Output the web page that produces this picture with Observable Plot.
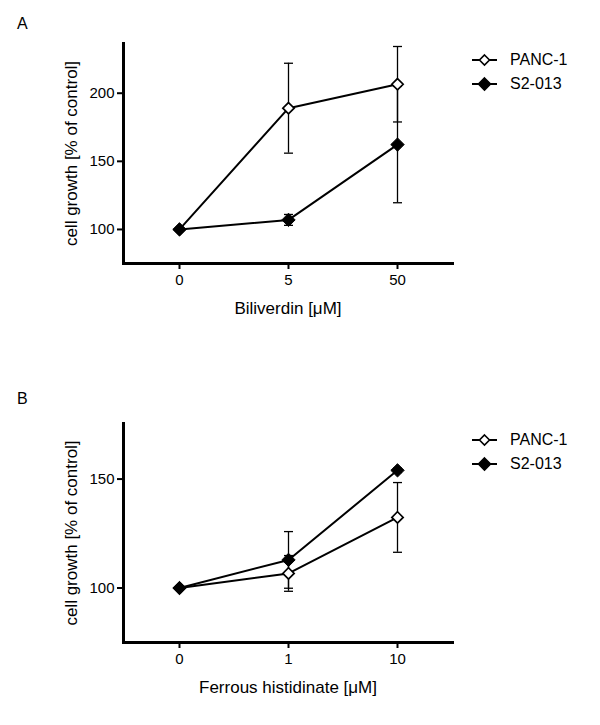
<!DOCTYPE html>
<html><head><meta charset="utf-8">
<script src="https://cdn.jsdelivr.net/npm/d3@7"></script>
<script src="https://cdn.jsdelivr.net/npm/@observablehq/plot@0.6"></script>
<style>
body{margin:0;background:#fff;font-family:"Liberation Sans",Arial,sans-serif;}
#wrap{position:relative;width:600px;height:725px;overflow:hidden;}
.panel{position:absolute;left:0;width:600px;}
.letter{position:absolute;left:17px;font-size:16px;line-height:16px;color:#000;}
.legend{position:absolute;left:472px;font-size:16px;color:#000;}
.legend .item{display:flex;align-items:center;height:24px;}
.legend svg{display:block;margin-right:12px;}
</style>
</head><body><div id="wrap"></div>
<script>
const seriesNames = ["PANC-1", "S2-013"];
const yTitle = "cell growth [% of control]";

// Panel A: Biliverdin
const doseA = ["0", "5", "50"];
const panc1A = [100, 189, 206.6];
const panc1AErr = [0, 33, 27.7];
const s2A = [100, 107, 162.3];
const s2AErr = [0, 4, 42.7];
const yTicksA = [100, 150, 200];

// Panel B: Ferrous histidinate
const doseB = ["0", "1", "10"];
const panc1B = [100, 106.7, 132.4];
const panc1BErr = [0, 8.2, 16];
const s2B = [100, 112.9, 154];
const s2BErr = [0, 13, 1];
const yTicksB = [100, 150];

function rowsFor(doses, p, pe, s, se) {
  const rows = [];
  doses.forEach((d, i) => rows.push({dose: d, series: seriesNames[0], value: p[i], err: pe[i]}));
  doses.forEach((d, i) => rows.push({dose: d, series: seriesNames[1], value: s[i], err: se[i]}));
  return rows;
}

const capSymbol = {draw(ctx) { ctx.moveTo(-4.5, 0); ctx.lineTo(4.5, 0); }};

function panel({doses, rows, yDomain, yTicks, xLabel, height, marginTop, marginBottom}) {
  const errRows = rows.filter(d => d.err > 0);
  const caps = errRows.flatMap(d => [{dose: d.dose, y: d.value - d.err}, {dose: d.dose, y: d.value + d.err}]);
  return Plot.plot({
    width: 600, height, marginLeft: 123, marginRight: 148, marginTop, marginBottom,
    style: {fontFamily: "'Liberation Sans', Arial, sans-serif", fontSize: "15px", color: "#000", background: "#fff", overflow: "visible"},
    x: {type: "point", domain: doses, padding: 0.5},
    y: {domain: yDomain},
    marks: [
      Plot.ruleX(errRows, {x: "dose", y1: d => d.value - d.err, y2: d => d.value + d.err, stroke: "#000", strokeWidth: 1.3}),
      Plot.dot(caps, {x: "dose", y: "y", symbol: capSymbol, stroke: "#000", strokeWidth: 1.3, fill: "none"}),
      Plot.line(rows, {x: "dose", y: "value", z: "series", stroke: "#000", strokeWidth: 2}),
      Plot.dot(rows.filter(d => d.series === seriesNames[0]), {x: "dose", y: "value", symbol: "diamond2", r: 5.1, fill: "#fff", stroke: "#000", strokeWidth: 1.7}),
      Plot.dot(rows.filter(d => d.series === seriesNames[1]), {x: "dose", y: "value", symbol: "diamond2", r: 6, fill: "#000", stroke: "#000", strokeWidth: 1}),
      Plot.axisY({ticks: yTicks, tickSize: 6, tickPadding: 3, strokeWidth: 2, fontSize: 15, label: null}),
      Plot.axisX({tickSize: 6, tickPadding: 5, strokeWidth: 2, fontSize: 15, label: null}),
      Plot.text([yTitle], {frameAnchor: "left", rotate: -90, dx: -59, textAnchor: "middle", lineAnchor: "top", fontSize: 17}),
      Plot.text([xLabel], {frameAnchor: "bottom", dy: 50, textAnchor: "middle", lineAnchor: "bottom", fontSize: 17}),
      Plot.frame({anchor: "left", strokeWidth: 3}),
      Plot.frame({anchor: "bottom", strokeWidth: 3})
    ]
  });
}

function legend(top) {
  const div = document.createElement("div");
  div.className = "legend";
  div.style.top = top + "px";
  seriesNames.forEach((name, i) => {
    const item = document.createElement("div");
    item.className = "item";
    const h = i === 0 ? 5 : 6;
    const fill = i === 0 ? "#fff" : "#000";
    item.innerHTML = `<svg width="26" height="24"><line x1="0" y1="12" x2="25" y2="12" stroke="#000" stroke-width="2"/><path d="M12.5,${12-h}L${12.5+h},12L12.5,${12+h}L${12.5-h},12Z" fill="${fill}" stroke="#000" stroke-width="1.6"/></svg><span>${name}</span>`;
    div.appendChild(item);
  });
  return div;
}

const wrap = document.getElementById("wrap");

const pA = panel({doses: doseA, rows: rowsFor(doseA, panc1A, panc1AErr, s2A, s2AErr), yDomain: [75, 236.5], yTicks: yTicksA,
  xLabel: "Biliverdin [μM]", height: 362, marginTop: 43, marginBottom: 99});
const dA = document.createElement("div"); dA.className = "panel"; dA.style.top = "0px"; dA.appendChild(pA); wrap.appendChild(dA);

const pB = panel({doses: doseB, rows: rowsFor(doseB, panc1B, panc1BErr, s2B, s2BErr), yDomain: [75, 175.5], yTicks: yTicksB,
  xLabel: "Ferrous histidinate [μM]", height: 363, marginTop: 61, marginBottom: 83});
const dB = document.createElement("div"); dB.className = "panel"; dB.style.top = "362px"; dB.appendChild(pB); wrap.appendChild(dB);

const la = document.createElement("div"); la.className = "letter"; la.style.top = "16px"; la.textContent = "A"; wrap.appendChild(la);
const lb = document.createElement("div"); lb.className = "letter"; lb.style.top = "391px"; lb.textContent = "B"; wrap.appendChild(lb);

wrap.appendChild(legend(48));
wrap.appendChild(legend(428));
</script>
</body></html>
